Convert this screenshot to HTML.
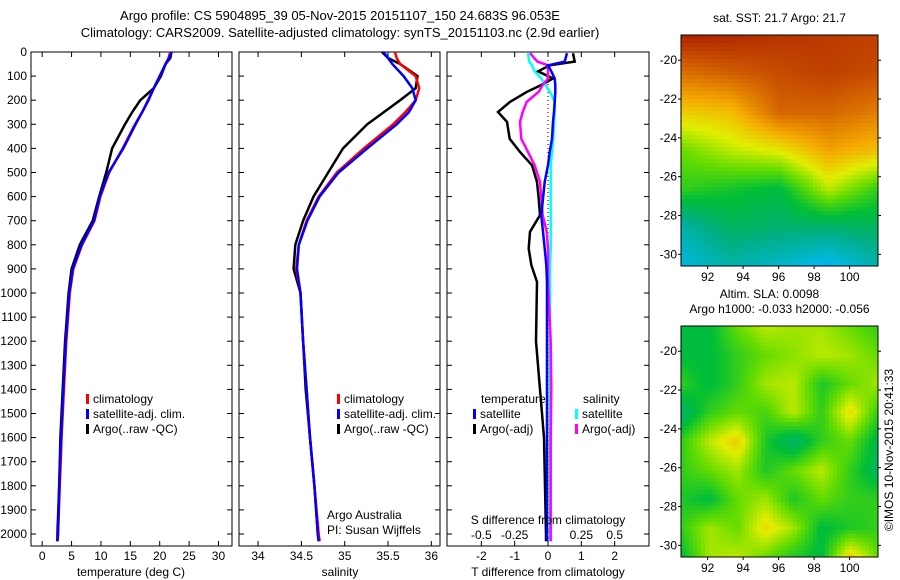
<!DOCTYPE html>
<html><head><meta charset="utf-8"><style>
body{margin:0;background:#fff;}
svg{display:block;font-family:"Liberation Sans",sans-serif;}
text{fill:#000;}
</style></head><body>
<svg id="s" width="900" height="580"></svg>
<script>
// ---- data ----
const tDepth=[0,25,50,100,150,200,250,300,400,500,600,700,800,900,1000,1200,1400,1600,1800,2000,2030];
const tClim=[21.8,21.5,21.0,20.0,19.0,18.0,17.0,15.8,13.7,11.4,9.9,8.9,6.8,5.3,4.7,4.1,3.7,3.3,3.0,2.7,2.6];
const tSat=[22.0,21.6,21.0,20.0,19.0,18.1,17.0,15.9,13.8,11.3,9.8,8.8,6.7,5.2,4.6,4.0,3.6,3.2,2.9,2.7,2.6];
const tArgo=[22.0,21.8,21.0,20.2,19.0,16.7,15.3,14.1,11.9,10.9,9.7,8.6,6.4,5.0,4.5,3.9,3.5,3.1,2.9,2.6,2.6];
const sClim=[35.58,35.6,35.64,35.82,35.86,35.82,35.7,35.56,35.22,34.91,34.7,34.56,34.47,34.44,34.49,34.52,34.56,34.6,34.65,34.7,34.71];
const sSat=[35.45,35.5,35.55,35.68,35.78,35.82,35.74,35.6,35.26,34.93,34.71,34.57,34.47,34.45,34.49,34.52,34.56,34.6,34.65,34.69,34.7];
const sArgo=[35.43,35.5,35.64,35.84,35.82,35.64,35.45,35.26,34.98,34.81,34.64,34.52,34.43,34.41,34.49,34.52,34.55,34.6,34.65,34.69,34.7];
const dDepth=[5,40,55,80,110,137,165,207,249,290,360,415,470,539,608,677,746,815,884,954,1200,1400,1600,2000,2030];
const dT=[0.75,0.8,0.06,-0.3,0.15,-0.2,-0.63,-1.14,-1.5,-1.23,-1.15,-0.84,-0.48,-0.33,-0.28,-0.24,-0.54,-0.58,-0.5,-0.33,-0.36,-0.24,-0.12,-0.06,-0.06];
const dTsat=[0.57,0.5,0.0,0.1,0.2,0.22,0.22,0.2,0.18,0.15,0.12,0.05,0.0,-0.1,-0.15,-0.2,-0.15,-0.1,-0.05,-0.03,-0.03,-0.03,-0.03,-0.03,-0.03];
const dS=[-0.135,-0.08,0.0,0.0,0.0,-0.04,-0.07,-0.16,-0.19,-0.21,-0.2,-0.15,-0.1,-0.06,-0.05,-0.04,-0.01,0.0,0.0,0.0,0.02,0.025,0.02,0.02,0.02];
const dSsat=[-0.15,-0.14,-0.12,-0.1,-0.05,-0.02,0.015,0.05,0.05,0.045,0.04,0.03,0.02,0.02,0.02,0.02,0.02,0.02,0.015,0.015,0.015,0.015,0.015,0.015,0.015];
const depthTicks=[0,100,200,300,400,500,600,700,800,900,1000,1100,1200,1300,1400,1500,1600,1700,1800,1900,2000];
const tTicks=[0,5,10,15,20,25,30];
const sTicks=[34,34.5,35,35.5,36];
const sTickLabels=["34","34.5","35","35.5","36"];
const dTTicks=[-2,-1,0,1,2];
const dSTicks=[-0.5,-0.25,0,0.25,0.5];
const sstGrid=[[0.97,0.96,0.94,0.93,0.92],[0.84,0.87,0.9,0.92,0.9],[0.7,0.72,0.86,0.86,0.82],[0.55,0.62,0.66,0.76,0.72],[0.5,0.47,0.44,0.62,0.5],[0.3,0.4,0.38,0.38,0.4],[0.22,0.3,0.25,0.18,0.3]];
const slaGrid=[[.44,.44,.55,.62,.6,.6,.55,.5],[.44,.44,.5,.55,.58,.62,.6,.55],[.5,.44,.5,.6,.62,.48,.55,.6],[.38,.5,.55,.52,.62,.5,.68,.5],[.5,.62,.7,.48,.38,.5,.55,.42],[.5,.55,.6,.48,.55,.62,.5,.4],[.48,.44,.55,.6,.48,.55,.5,.5],[.5,.6,.55,.68,.6,.44,.48,.5],[.44,.6,.62,.55,.48,.44,.7,.55]];
const lonTicks=[92,94,96,98,100];
const latTicks=[-20,-22,-24,-26,-28,-30];

const S=document.getElementById('s');const NS='http://www.w3.org/2000/svg';
function el(t,a,p){const e=document.createElementNS(NS,t);for(const k in a)e.setAttribute(k,a[k]);(p||S).appendChild(e);return e;}
function txt(x,y,s,anchor,size,p){const e=el('text',{x:x,y:y,'text-anchor':anchor||'start','font-size':size||12},p);e.textContent=s;return e;}
const yTop=52,yBot=546;
const yD=d=>yTop+d*0.241;
function panel(name,x0,x1,xmin,xmax){
  const g=el('g',{});
  el('rect',{x:x0,y:yTop,width:x1-x0,height:yBot-yTop,fill:'none',stroke:'#000','stroke-width':1},g);
  return {g:g,xs:v=>x0+(v-xmin)/(xmax-xmin)*(x1-x0),x0:x0,x1:x1};
}
function line(p,xs,vals,depths,color,name){
  const pts=vals.map((v,i)=>xs(v).toFixed(1)+','+yD(depths[i]).toFixed(1)).join(' ');
  const e=el('polyline',{points:pts,fill:'none',stroke:color,'stroke-width':2.5},p.g);
  
}
function yTicksFn(p,labels){
  depthTicks.forEach(d=>{const y=yD(d);
    el('line',{x1:p.x0,y1:y,x2:p.x0+5,y2:y,stroke:'#000'},p.g);
    el('line',{x1:p.x1,y1:y,x2:p.x1-5,y2:y,stroke:'#000'},p.g);
    if(labels){const t=txt(p.x0-4,y+4,String(d),'end',12,p.g);}
  });
}
function xTicksFn(p,ticks,xs,labels,ly){
  ticks.forEach((v,i)=>{const x=xs(v);
    el('line',{x1:x,y1:yBot,x2:x,y2:yBot-5,stroke:'#000'},p.g);
    el('line',{x1:x,y1:yTop,x2:x,y2:yTop+5,stroke:'#000'},p.g);
    const t=txt(x,ly,labels?labels[i]:String(v),'middle',12,p.g);});
}
function legendEntry(p,x,y,color,label){
  el('rect',{x:x,y:y-9,width:3,height:10,fill:color},p.g);
  const t=txt(x+7,y,label,'start',12,p.g);
}
let t=txt(340,20,'Argo profile: CS 5904895_39 05-Nov-2015 20151107_150 24.683S 96.053E','middle',13);
t=txt(340,37,'Climatology: CARS2009. Satellite-adjusted climatology: synTS_20151103.nc (2.9d earlier)','middle',13);

const p1=panel('temperature-panel',31,232,-1.9,32.3);
yTicksFn(p1,true);xTicksFn(p1,tTicks,p1.xs,null,560);
line(p1,p1.xs,tArgo,tDepth,'#000','argo-temperature-line');
line(p1,p1.xs,tClim,tDepth,'#f00','climatology-temperature-line');
line(p1,p1.xs,tSat,tDepth,'#00f','satellite-temperature-line');
t=txt(131,576,'temperature (deg C)','middle',12,p1.g);
legendEntry(p1,86,403,'#f00','climatology');legendEntry(p1,86,418,'#00f','satellite-adj. clim.');legendEntry(p1,86,433,'#000','Argo(..raw -QC)');

const p2=panel('salinity-panel',239,440,33.78,36.1);
yTicksFn(p2,false);xTicksFn(p2,sTicks,p2.xs,sTickLabels,560);
line(p2,p2.xs,sArgo,tDepth,'#000','argo-salinity-line');
line(p2,p2.xs,sClim,tDepth,'#f00','climatology-salinity-line');
line(p2,p2.xs,sSat,tDepth,'#00f','satellite-salinity-line');
t=txt(340,576,'salinity','middle',12,p2.g);
legendEntry(p2,337,403,'#f00','climatology');legendEntry(p2,337,418,'#00f','satellite-adj. clim.');legendEntry(p2,337,433,'#000','Argo(..raw -QC)');
t=txt(327,519,'Argo Australia','start',12,p2.g);
t=txt(327,534,'PI: Susan Wijffels','start',12,p2.g);

const p3=panel('difference-panel',447,649,-3.03,3.03);
yTicksFn(p3,false);
xTicksFn(p3,dTTicks,p3.xs,null,560);
const xsS=v=>p3.xs(v*4);
dSTicks.forEach(v=>{const tt=txt(xsS(v),539,String(v),'middle',12,p3.g);});
el('line',{x1:p3.xs(0),y1:yTop,x2:p3.xs(0),y2:yBot,stroke:'#000','stroke-dasharray':'1,3'},p3.g);
line(p3,p3.xs,dT,dDepth,'#000','argo-temperature-diff-line');
line(p3,xsS,dSsat,dDepth,'#0ff','satellite-salinity-diff-line');
line(p3,xsS,dS,dDepth,'#f0f','argo-salinity-diff-line');
line(p3,p3.xs,dTsat,dDepth,'#00f','satellite-temperature-diff-line');
t=txt(481,403,'temperature','start',12,p3.g);
t=txt(583,403,'salinity','start',12,p3.g);
legendEntry(p3,473,418,'#00f','satellite');legendEntry(p3,473,433,'#000','Argo(-adj)');
legendEntry(p3,575,418,'#0ff','satellite');legendEntry(p3,575,433,'#f0f','Argo(-adj)');
t=txt(548,524,'S difference from climatology','middle',12,p3.g);
t=txt(548,576,'T difference from climatology','middle',12,p3.g);

const stops=[[0,[0,70,220]],[0.2,[0,185,235]],[0.35,[0,175,135]],[0.45,[0,190,55]],[0.55,[100,220,0]],[0.65,[225,238,0]],[0.75,[245,170,0]],[0.87,[210,95,0]],[1,[160,15,0]]];
function cmap(v){for(let i=1;i<stops.length;i++){if(v<=stops[i][0]){const a=stops[i-1],b=stops[i],f=(v-a[0])/(b[0]-a[0]);return 'rgb('+a[1].map((c,k)=>Math.round(c+(b[1][k]-c)*f)).join(',')+')';}}return 'rgb(160,15,0)';}
function map(name,grid,x0,y0,w,h,lat0,lat1,title){
  const g=el('g',{});
  const R=grid.length,C=grid[0].length,bs=4;
  for(let y=0;y<h;y+=bs)for(let x=0;x<w;x+=bs){
    const fy=(y+bs/2)/h*(R-1),fx=(x+bs/2)/w*(C-1);
    const r=Math.min(Math.floor(fy),R-2),c=Math.min(Math.floor(fx),C-2),ty=fy-r,tx=fx-c;
    const v=grid[r][c]*(1-tx)*(1-ty)+grid[r][c+1]*tx*(1-ty)+grid[r+1][c]*(1-tx)*ty+grid[r+1][c+1]*tx*ty;
    el('rect',{x:x0+x,y:y0+y,width:Math.min(bs,w-x),height:Math.min(bs,h-y),fill:cmap(v)},g);
  }
  el('rect',{x:x0,y:y0,width:w,height:h,fill:'none',stroke:'#000'},g);
  const xl=v=>x0+(v-90.5)/(101.6-90.5)*w, yl=v=>y0+(lat0-v)/(lat0-lat1)*h;
  lonTicks.forEach(v=>{el('line',{x1:xl(v),y1:y0+h,x2:xl(v),y2:y0+h+3,stroke:'#000'},g);
    const tt=txt(xl(v),y0+h+15,String(v),'middle',12,g);});
  latTicks.forEach(v=>{el('line',{x1:x0+w,y1:yl(v),x2:x0+w+3,y2:yl(v),stroke:'#000'},g);el('line',{x1:x0-3,y1:yl(v),x2:x0,y2:yl(v),stroke:'#000'},g);
    const tt=txt(x0-4,yl(v)+4,String(v),'end',12,g);});
  title.forEach((s,i)=>{const tt=txt(x0+w/2-(i==0&&title.length>1?10:0),y0-(title.length-i)*15+2,s,'middle',12,g);});
}
map('sst-map',sstGrid,681,35,197,231,-18.7,-30.6,['sat. SST: 21.7 Argo: 21.7']);
map('sla-map',slaGrid,681,326,197,231,-18.7,-30.6,['Altim. SLA: 0.0098','Argo h1000: -0.033 h2000: -0.056']);
t=txt(0,0,'©IMOS 10-Nov-2015 20:41:33','middle',12);t.setAttribute('transform','translate(893,450) rotate(-90)');

</script>
</body></html>
